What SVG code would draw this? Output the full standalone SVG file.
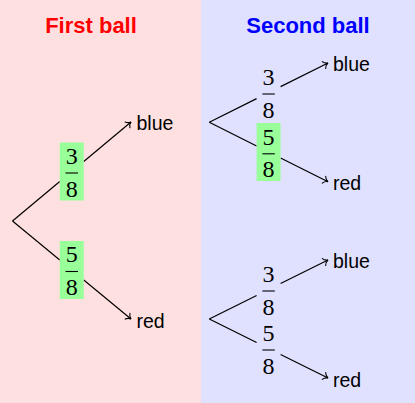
<svg xmlns="http://www.w3.org/2000/svg" width="415" height="403" viewBox="0 0 415 403">
<style>
.title{font-family:"Liberation Sans",Arial,sans-serif;font-weight:bold;font-size:22px;text-anchor:middle}
.leaf{font-family:"Liberation Sans",Arial,sans-serif;font-size:19.5px;fill:#000}
.dig{font-family:"Liberation Serif","Times New Roman",serif;font-size:24px;text-anchor:middle;fill:#000}
.bar{stroke:#000;stroke-width:1.1}
.edge{stroke:#000;stroke-width:1.2;fill:none}
.hl{fill:#99FF99}
</style>
<defs>
<marker id="arr" markerUnits="userSpaceOnUse" markerWidth="12" markerHeight="12" viewBox="-6 -6 12 12" refX="0" refY="0" orient="auto">
<path d="M-4.5,-3.8 C-3.4,-1.6 -1.6,-0.4 0,0 C-1.6,0.4 -3.4,1.6 -4.5,3.8" fill="none" stroke="#000" stroke-width="1.1" stroke-linecap="round"/>
</marker>
</defs>
<g id="panels">
<rect x="0" y="0" width="201" height="403" fill="#FFE0E0"/>
<rect x="201" y="0" width="214" height="403" fill="#E0E0FF"/>
</g>
<g id="title-first"><text class="title" x="91" y="33.3" fill="#FF0000">First ball</text></g>
<g id="title-second"><text class="title" x="308" y="33.3" fill="#0000FF">Second ball</text></g>
<g id="connectors">
<!-- left tree -->
<line class="edge" x1="12.5" y1="221" x2="59.75" y2="181.5"/>
<line class="edge" x1="83.75" y1="161.5" x2="131" y2="122" marker-end="url(#arr)"/>
<line class="edge" x1="12.5" y1="221" x2="59.75" y2="260"/>
<line class="edge" x1="83.75" y1="280" x2="131" y2="319" marker-end="url(#arr)"/>
<!-- right top tree -->
<line class="edge" x1="209.3" y1="122.3" x2="256.6" y2="98.6"/>
<line class="edge" x1="280.6" y1="86.6" x2="328" y2="63" marker-end="url(#arr)"/>
<line class="edge" x1="209.3" y1="122.3" x2="256.6" y2="146"/>
<line class="edge" x1="280.6" y1="158" x2="328" y2="181.7" marker-end="url(#arr)"/>
<!-- right bottom tree -->
<line class="edge" x1="209.3" y1="319" x2="256.6" y2="295.5"/>
<line class="edge" x1="280.6" y1="283.5" x2="328" y2="260" marker-end="url(#arr)"/>
<line class="edge" x1="209.3" y1="319" x2="256.6" y2="342.5"/>
<line class="edge" x1="280.6" y1="354.5" x2="328" y2="378" marker-end="url(#arr)"/>
</g>
<!-- left tree labels -->
<g id="p-first-blue">
<rect class="hl" x="59.75" y="142.5" width="24" height="58"/>
<text class="dig" x="71.75" y="163.5">3</text>
<line class="bar" x1="65.5" y1="173" x2="78" y2="173"/>
<text class="dig" x="71.75" y="196.5">8</text>
</g>
<g id="p-first-red">
<rect class="hl" x="59.75" y="241" width="24" height="58"/>
<text class="dig" x="71.75" y="262">5</text>
<line class="bar" x1="65.5" y1="271.5" x2="78" y2="271.5"/>
<text class="dig" x="71.75" y="295">8</text>
</g>
<g id="leaf-first-blue"><text class="leaf" x="136.5" y="130">blue</text></g>
<g id="leaf-first-red"><text class="leaf" x="136.5" y="327.5">red</text></g>
<!-- right top tree labels -->
<g id="p-bb">
<text class="dig" x="268.6" y="84.6">3</text>
<line class="bar" x1="262.4" y1="94" x2="274.8" y2="94"/>
<text class="dig" x="268.6" y="117.6">8</text>
</g>
<g id="p-br">
<rect class="hl" x="256.6" y="123" width="24" height="58"/>
<text class="dig" x="268.6" y="144.5">5</text>
<line class="bar" x1="262.4" y1="153.8" x2="274.8" y2="153.8"/>
<text class="dig" x="268.6" y="177">8</text>
</g>
<g id="leaf-bb"><text class="leaf" x="333" y="71">blue</text></g>
<g id="leaf-br"><text class="leaf" x="333" y="190">red</text></g>
<!-- right bottom tree labels -->
<g id="p-rb">
<text class="dig" x="268.6" y="281.5">3</text>
<line class="bar" x1="262.4" y1="291" x2="274.8" y2="291"/>
<text class="dig" x="268.6" y="314.5">8</text>
</g>
<g id="p-rr">
<text class="dig" x="268.6" y="340.5">5</text>
<line class="bar" x1="262.4" y1="350" x2="274.8" y2="350"/>
<text class="dig" x="268.6" y="373.5">8</text>
</g>
<g id="leaf-rb"><text class="leaf" x="333" y="268">blue</text></g>
<g id="leaf-rr"><text class="leaf" x="333" y="386.5">red</text></g>
</svg>
